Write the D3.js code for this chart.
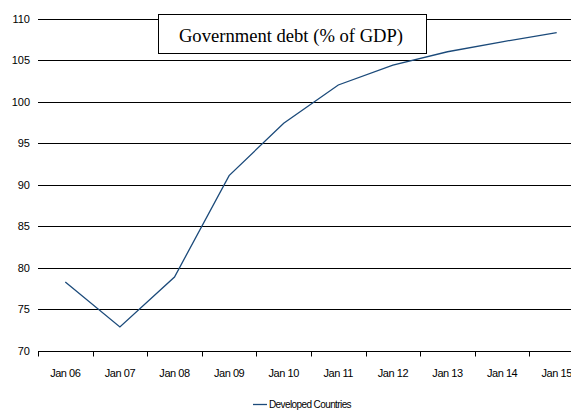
<!DOCTYPE html>
<html>
<head>
<meta charset="utf-8">
<script src="https://cdn.jsdelivr.net/npm/d3@7"></script>
<style>
  body { margin: 0; background: #fff; }
  svg { display: block; }
  text { font-family: "Liberation Sans", Arial, sans-serif; }
</style>
</head>
<body>
<div id="chart"></div>
<script>
const categories = ["Jan 06", "Jan 07", "Jan 08", "Jan 09", "Jan 10", "Jan 11", "Jan 12", "Jan 13", "Jan 14", "Jan 15"];
const debtValues = [78.3, 72.9, 78.9, 91.1, 97.4, 102.0, 104.4, 106.0, 107.2, 108.3];
const yTicks = [70, 75, 80, 85, 90, 95, 100, 105, 110];
const seriesName = "Developed Countries";
const chartTitle = "Government debt (% of GDP)";

const W = 571, H = 410;
const plotLeft = 38, plotTop = 18.5, plotBottom = 351;
const bandW = 54.6;

const svg = d3.select("#chart").append("svg")
  .attr("width", W)
  .attr("height", H);

const x = d3.scaleBand()
  .domain(categories)
  .range([plotLeft, plotLeft + bandW * categories.length]);

const y = d3.scaleLinear()
  .domain([70, 110])
  .range([plotBottom, plotTop]);

// gridlines
svg.append("g")
  .selectAll("line")
  .data(yTicks.filter(d => d > 70))
  .join("line")
  .attr("x1", plotLeft)
  .attr("x2", W)
  .attr("y1", d => Math.round(y(d)) + 0.5)
  .attr("y2", d => Math.round(y(d)) + 0.5)
  .attr("stroke", "#000")
  .attr("stroke-width", 1);

// y tick labels
svg.append("g")
  .selectAll("text")
  .data(yTicks)
  .join("text")
  .attr("x", 30)
  .attr("y", d => y(d))
  .attr("text-anchor", "end")
  .attr("dominant-baseline", "central")
  .attr("font-size", 11)
  .attr("fill", "#000")
  .text(d => d);

// x axis
const gx = svg.append("g")
  .attr("transform", `translate(0,${Math.round(plotBottom) + 0.5})`);
gx.append("line")
  .attr("x1", plotLeft)
  .attr("x2", W)
  .attr("stroke", "#000");
gx.selectAll(".tk")
  .data(categories)
  .join("line")
  .attr("class", "tk")
  .attr("x1", d => Math.round(x(d)) + 0.5)
  .attr("x2", d => Math.round(x(d)) + 0.5)
  .attr("y1", 0)
  .attr("y2", 5)
  .attr("stroke", "#000");
gx.selectAll(".lbl")
  .data(categories)
  .join("text")
  .attr("class", "lbl")
  .attr("x", d => x(d) + x.bandwidth() / 2)
  .attr("y", 21)
  .attr("text-anchor", "middle")
  .attr("dominant-baseline", "central")
  .attr("font-size", 11)
  .attr("letter-spacing", "-0.45px")
  .attr("fill", "#000")
  .text(d => d);

// series line
const line = d3.line()
  .x((d, i) => x(categories[i]) + x.bandwidth() / 2)
  .y(d => y(d));

svg.append("path")
  .datum(debtValues)
  .attr("d", line)
  .attr("fill", "none")
  .attr("stroke", "#1b4a7a")
  .attr("stroke-width", 1.3);

// title box
svg.append("rect")
  .attr("x", 158.5)
  .attr("y", 14.5)
  .attr("width", 268)
  .attr("height", 39)
  .attr("fill", "#fff")
  .attr("stroke", "#000")
  .attr("stroke-width", 1);

svg.append("text")
  .attr("x", 291)
  .attr("y", 35)
  .attr("text-anchor", "middle")
  .attr("dominant-baseline", "central")
  .style("font-family", "'Liberation Serif', 'Times New Roman', serif")
  .attr("font-size", 18.6)
  .attr("fill", "#000")
  .text(chartTitle);

// legend
svg.append("line")
  .attr("x1", 253)
  .attr("x2", 267)
  .attr("y1", 404.5)
  .attr("y2", 404.5)
  .attr("stroke", "#1b4a7a")
  .attr("stroke-width", 1.3);
svg.append("text")
  .attr("x", 269)
  .attr("y", 404)
  .attr("dominant-baseline", "central")
  .attr("font-size", 10)
  .attr("letter-spacing", "-0.6px")
  .attr("fill", "#000")
  .text(seriesName);
</script>
</body>
</html>
